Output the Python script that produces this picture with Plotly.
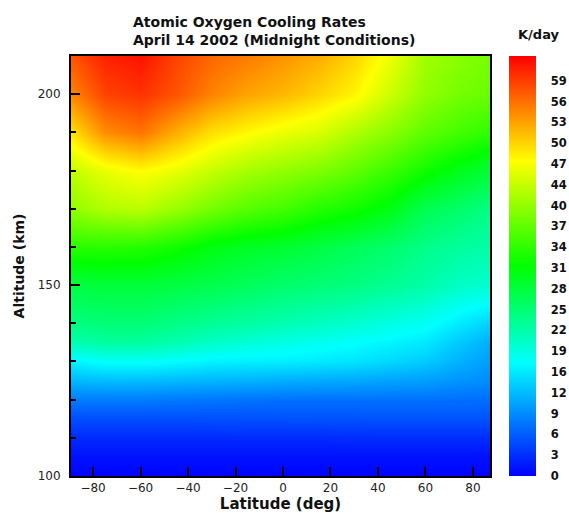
import plotly.graph_objects as go

# Latitude nodes (deg) and altitude nodes (km)
lat = [-89, -75, -60, -45, -30, -15, 0, 15, 30, 45, 60, 75, 88]
alt = [100, 105, 110, 115, 120, 125, 130, 135, 140, 150, 160, 170, 180, 190, 200, 210]

# Cooling rate (K/day), one row per altitude
r100 = [0.2, 0.2, 0.2, 0.2, 0.2, 0.2, 0.2, 0.2, 0.2, 0.2, 0.2, 0.2, 0.2]
r105 = [1.1, 1.1, 1.1, 1.1, 1.1, 1.1, 1.1, 1.1, 1.1, 1.1, 1.1, 1.1, 1.1]
r110 = [2.8, 2.8, 2.8, 2.8, 2.8, 2.8, 2.8, 2.8, 2.9, 2.9, 2.9, 2.9, 2.9]
r115 = [5.1, 5.1, 5.1, 5.1, 5.2, 5.3, 5.3, 5.4, 5.4, 5.5, 5.5, 5.5, 5.5]
r120 = [8.2, 8.2, 8.2, 8.0, 7.8, 7.6, 7.5, 7.5, 7.5, 7.5, 7.5, 7.4, 7.3]
r125 = [12.2, 12.5, 12.5, 12.2, 12.0, 11.8, 11.5, 11.3, 11.1, 10.8, 10.5, 9.8, 9.3]
r130 = [16.3, 17.5, 17.5, 17.0, 16.3, 16.1, 16.0, 15.7, 15.3, 14.5, 13.6, 11.8, 10.5]
r135 = [21.5, 22.6, 22.6, 21.5, 20.3, 19.4, 18.6, 17.9, 17.2, 16.4, 15.6, 13.4, 11.5]
r140 = [24.3, 24.9, 24.9, 24.0, 23.1, 22.3, 21.5, 20.6, 19.7, 18.7, 17.7, 15.6, 14.0]
r150 = [27.8, 28.3, 28.3, 27.8, 27.2, 26.4, 25.5, 24.9, 24.3, 23.2, 22.0, 20.3, 19.7]
r160 = [34.0, 34.0, 33.7, 32.5, 30.6, 29.5, 28.9, 27.8, 26.6, 25.5, 23.8, 22.6, 21.9]
r170 = [40.5, 42.4, 43.0, 41.0, 38.7, 36.8, 35.6, 33.7, 32.5, 30.5, 27.0, 25.5, 24.0]
r180 = [43.5, 46.0, 47.4, 46.0, 43.7, 41.8, 40.5, 39.3, 37.4, 35.0, 32.4, 30.0, 28.3]
r190 = [49.3, 54.4, 56.0, 52.4, 49.3, 47.7, 46.2, 45.0, 42.4, 40.0, 37.4, 35.6, 34.3]
r200 = [55.0, 59.0, 60.0, 58.0, 55.0, 53.0, 51.8, 50.0, 48.0, 44.2, 40.5, 38.7, 38.0]
r210 = [58.0, 61.0, 62.0, 59.0, 56.7, 55.5, 54.0, 52.4, 50.0, 46.3, 41.5, 40.0, 38.7]
rates = [r100, r105, r110, r115, r120, r125, r130, r135, r140,
         r150, r160, r170, r180, r190, r200, r210]

# Colour bar labels
cb_vals = [0, 3.125, 6.25, 9.375, 12.5, 15.625, 18.75, 21.875, 25, 28.125,
           31.25, 34.375, 37.5, 40.625, 43.75, 46.875, 50, 53.125, 56.25, 59.375]
cb_text = ["0", "3", "6", "9", "12", "16", "19", "22", "25", "28",
           "31", "34", "37", "40", "44", "47", "50", "53", "56", "59"]

FONT = "DejaVu Sans"

fig = go.Figure(go.Heatmap(
    x=lat, y=alt, z=rates, zsmooth="best",
    zmin=0, zmax=63.1,
    colorscale=[[0, "rgb(0,0,255)"], [0.27, "rgb(0,255,255)"],
                [0.5, "rgb(0,255,0)"], [0.75, "rgb(255,255,0)"],
                [1, "rgb(255,0,0)"]],
    colorbar=dict(
        x=(509 - 71) / 419, xanchor="left", xref="paper", xpad=0,
        y=0.5, yanchor="middle", len=1, lenmode="fraction", ypad=0,
        thickness=27, outlinewidth=0,
        tickvals=cb_vals, ticktext=cb_text,
        ticks="outside", ticklen=13, tickcolor="rgba(0,0,0,0)",
        tickfont=dict(family=FONT, size=11.5, color="#111", weight="bold"),
    ),
))

fig.update_layout(
    width=569, height=513,
    margin=dict(l=71, r=79, t=56, b=37, autoexpand=False),
    paper_bgcolor="white", plot_bgcolor="white",
    title=dict(
        text="Atomic Oxygen Cooling Rates<br>April 14 2002 (Midnight Conditions)",
        x=133 / 569, xanchor="left", xref="container",
        y=1 - 27 / 513, yanchor="top",
        font=dict(family=FONT, size=14, color="#111", weight="bold"),
    ),
    annotations=[dict(
        text="K/day", x=(516 - 71) / 419, xref="paper", xanchor="left",
        y=1 + (56 - 35) / 420, yref="paper", yanchor="middle", showarrow=False,
        font=dict(family=FONT, size=13, color="#111", weight="bold"),
    )],
)

fig.update_xaxes(
    range=[-89.3, 87.2], tickvals=[-80, -60, -40, -20, 0, 20, 40, 60, 80],
    ticks="inside", ticklen=9, tickwidth=2, tickcolor="black",
    showline=True, mirror=True, linecolor="black", linewidth=2,
    showgrid=False, zeroline=False,
    tickfont=dict(family=FONT, size=12, color="#222"),
    title=dict(text="Latitude (deg)", standoff=1,
               font=dict(family=FONT, size=15, color="#111", weight="bold")),
)
fig.update_yaxes(
    range=[100, 210], tickvals=[100, 150, 200],
    ticks="inside", ticklen=9, tickwidth=2, tickcolor="black",
    minor=dict(dtick=10, ticks="inside", ticklen=5, tickwidth=1.5, tickcolor="black"),
    showline=True, mirror=True, linecolor="black", linewidth=2,
    showgrid=False, zeroline=False, ticklabelstandoff=6,
    tickfont=dict(family=FONT, size=12, color="#222"),
    title=dict(text="Altitude (km)", standoff=10,
               font=dict(family=FONT, size=14, color="#111", weight="bold")),
)

fig.write_html("out.html")
